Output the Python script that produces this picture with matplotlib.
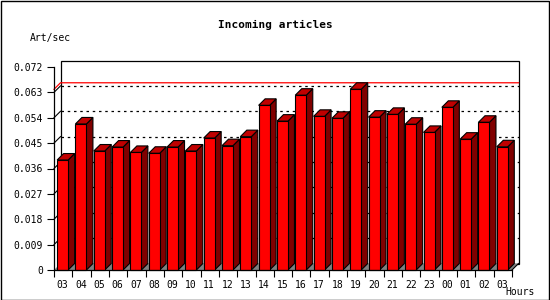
import matplotlib
matplotlib.use("Agg")
import matplotlib.pyplot as plt
from matplotlib.patches import Polygon, Rectangle

hours = ["03", "04", "05", "06", "07", "08", "09", "10", "11", "12", "13", "14", "15",
         "16", "17", "18", "19", "20", "21", "22", "23", "00", "01", "02", "03"]
rate = [0.0390, 0.0518, 0.0422, 0.0436, 0.0417, 0.0414, 0.0436, 0.0422, 0.0468,
        0.0441, 0.0473, 0.0584, 0.0528, 0.0620, 0.0545, 0.0538, 0.0641, 0.0542,
        0.0552, 0.0517, 0.0488, 0.0577, 0.0464, 0.0524, 0.0437]
yticks = [0, 0.009, 0.018, 0.027, 0.036, 0.045, 0.054, 0.063, 0.072]
ytick_labels = ["0", "0.009", "0.018", "0.027", "0.036", "0.045", "0.054", "0.063", "0.072"]

W, H = 550, 300
fig = plt.figure(figsize=(5.5, 3.0), dpi=100)
fig.patch.set_facecolor("white")
fig.patches.append(Rectangle((0.5 / W, 0.5 / H), 1 - 1.5 / W, 1 - 1.5 / H,
                             transform=fig.transFigure, fill=False,
                             edgecolor="black", linewidth=1.0))

# front plane in pixels
x0, x1 = 54, 512
ybot, ytop = 270, 67
ax = fig.add_axes([x0 / W, (H - ybot) / H, (x1 - x0) / W, (ybot - ytop) / H])
n = len(rate)
ymax = 0.072
ax.set_xlim(0, n)
ax.set_ylim(0, ymax)
ax.patch.set_alpha(0)

slot_px = (x1 - x0) / n
dx = 6.5 / slot_px
dy = 6.5 / (ybot - ytop) * ymax
mono = "DejaVu Sans Mono"

# back wall
ax.add_patch(Polygon([(dx, dy), (n + dx, dy), (n + dx, ymax + dy), (dx, ymax + dy)],
                     closed=True, facecolor="white", edgecolor="black",
                     linewidth=0.9, clip_on=False, zorder=1))

# grid on back wall
for v in yticks[1:-1]:
    ax.plot([dx, n + dx], [v + dy, v + dy], color="black", linestyle=(0, (2, 3)),
            linewidth=0.9, clip_on=False, zorder=2)
    ax.plot([0, dx], [v, v + dy], color="black", linewidth=0.8, clip_on=False, zorder=2)

# max line
top = max(rate)
ax.plot([0, dx, n + dx], [top, top + dy, top + dy], color="red", linewidth=0.9,
        clip_on=False, zorder=3)

# floor
ax.add_patch(Polygon([(0, 0), (n, 0), (n + dx, dy), (dx, dy)], closed=True,
                     facecolor="#808080", edgecolor="none",
                     clip_on=False, zorder=3))
ax.plot([n, n + dx], [0, dy], color="black", linewidth=0.8, clip_on=False, zorder=3)

bw = 0.6
boff = 0.17
for i, v in enumerate(rate):
    a = i + boff
    b = a + bw
    side = [(b, 0), (b + dx, dy), (b + dx, v + dy), (b, v)]
    cap = [(a, v), (b, v), (b + dx, v + dy), (a + dx, v + dy)]
    ax.add_patch(Polygon(side, closed=True, facecolor="#800000", edgecolor="black",
                         linewidth=0.8, clip_on=False, zorder=4))
    ax.add_patch(Polygon(cap, closed=True, facecolor="#c00000", edgecolor="black",
                         linewidth=0.8, clip_on=False, zorder=4))
    ax.add_patch(Rectangle((a, 0), bw, v, facecolor="#ff0000", edgecolor="black",
                           linewidth=0.8, clip_on=False, zorder=5))

for s in ["top", "right"]:
    ax.spines[s].set_visible(False)
for s in ["left", "bottom"]:
    ax.spines[s].set_linewidth(0.9)
    ax.spines[s].set_zorder(6)

ax.set_yticks(yticks)
ax.set_yticklabels(ytick_labels, fontfamily=mono, fontsize=7)
ax.set_xticks(range(n + 1))
ax.set_xticklabels([])
ax.set_xticks([i + boff + bw / 2 for i in range(n)], minor=True)
ax.set_xticklabels(hours, minor=True, fontfamily=mono, fontsize=7)
ax.tick_params(axis="x", which="major", length=5, width=0.8, direction="out")
ax.tick_params(axis="x", which="minor", length=0, pad=7)
ax.tick_params(axis="y", length=5, width=0.8, direction="out", pad=3)

fig.text(275 / W, 1 - 25 / H, "Incoming articles", ha="center", va="center",
         fontfamily=mono, fontsize=8, fontweight="bold")
fig.text(30 / W, 1 - 38 / H, "Art/sec", ha="left", va="center",
         fontfamily=mono, fontsize=7)
fig.text(535 / W, 1 - 292 / H, "Hours", ha="right", va="center",
         fontfamily=mono, fontsize=7)

fig.savefig("out.png", dpi=100)
